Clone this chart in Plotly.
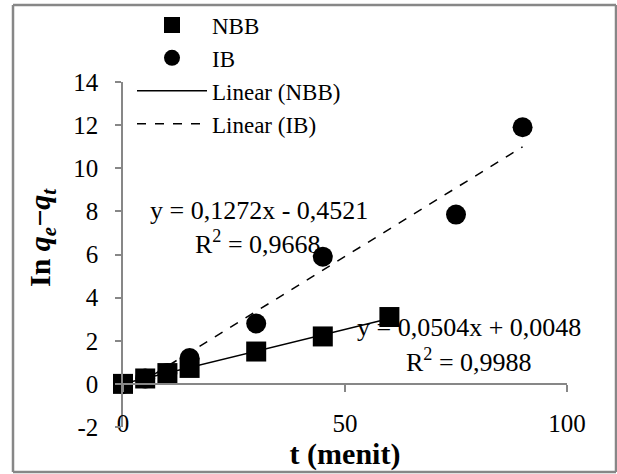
import plotly.graph_objects as go

# ---- data ----
t_nbb = [0, 5, 10, 15, 30, 45, 60]
y_nbb = [0, 0.25, 0.5, 0.74, 1.5, 2.2, 3.1]
t_ib = [0, 5, 10, 15, 30, 45, 75, 90]
y_ib = [0, 0.25, 0.5, 1.2, 2.8, 5.9, 7.85, 11.9]
fit_nbb = [0.0504, 0.0048]   # slope, intercept
fit_ib = [0.1272, -0.4521]
eq_nbb = "y = 0,0504x + 0,0048"
eq_ib = "y = 0,1272x - 0,4521"
r2_nbb = "R<sup>2</sup> = 0,9988"
r2_ib = "R<sup>2</sup> = 0,9668"
x_range = [0, 100]
y_range = [-2, 14]
x_ticks = [0, 50, 100]
y_ticks = [-2, 0, 2, 4, 6, 8, 10, 12, 14]
y_tick_text = ["-2", "0", "2", "4", "6", "8", "10", "12", "14"]
x_title = "<b>t (menit)</b>"
y_title = "<b>In <i>q</i><sub><i>e</i></sub>−<i>q</i><sub><i>t</i></sub></b>"

FONT = "Times New Roman, Liberation Serif, serif"
GRAY = "#878787"
W, H = 617, 474

# plot-area placement (pixels) -> paper fractions (margins are zero)
PL, PR, PT, PB = 123, 567, 82, 427
xdom = [PL / W, PR / W]
ydom = [1 - PB / H, 1 - PT / H]
def px(x):
    return x / W
def py(y):
    return 1 - y / H
zero_pos = ydom[0] + (0 - y_range[0]) / (y_range[1] - y_range[0]) * (ydom[1] - ydom[0])

def trend(xs, fit):
    x0, x1 = min(xs), max(xs)
    return [x0, x1], [fit[0] * x0 + fit[1], fit[0] * x1 + fit[1]]

fig = go.Figure()

tx, ty = trend(t_ib, fit_ib)
fig.add_trace(go.Scatter(x=tx, y=ty, mode="lines", name="Linear (IB)",
                         line=dict(color="black", width=1.5, dash="dash"),
                         legendrank=4, cliponaxis=False))
fig.add_trace(go.Scatter(x=t_ib, y=y_ib, mode="markers", name="IB",
                         marker=dict(symbol="circle", size=20, color="black"),
                         legendrank=2, cliponaxis=False))
tx, ty = trend(t_nbb, fit_nbb)
fig.add_trace(go.Scatter(x=tx, y=ty, mode="lines", name="Linear (NBB)",
                         line=dict(color="black", width=1.5),
                         legendrank=3, cliponaxis=False))
fig.add_trace(go.Scatter(x=t_nbb, y=y_nbb, mode="markers", name="NBB",
                         marker=dict(symbol="square", size=20, color="black"),
                         legendrank=1, cliponaxis=False))
# invisible helper trace for the axis line at y=0
fig.add_trace(go.Scatter(x=[0], y=[0], xaxis="x2", mode="markers",
                         marker=dict(opacity=0), showlegend=False, hoverinfo="skip"))

afont = dict(family=FONT, size=26, color="black")
fig.add_annotation(x=30.6, y=8.05, text=eq_ib, showarrow=False, font=afont)
fig.add_annotation(x=30.3, y=6.57, text=r2_ib, showarrow=False, font=afont)
fig.add_annotation(x=78.0, y=2.6, text=eq_nbb, showarrow=False, font=afont)
fig.add_annotation(x=77.9, y=1.07, text=r2_nbb, showarrow=False, font=afont)

# y-axis title (placed like the original, slightly above centre)
fig.add_annotation(x=px(42), y=py(237), xref="paper", yref="paper",
                   xanchor="center", yanchor="middle",
                   text=y_title, textangle=-90, showarrow=False,
                   font=dict(family=FONT, size=30, color="black"))

# chart border (4 edges)
L, R, T, B = px(13), px(616), py(5), py(472)
for x0, y0, x1, y1 in [(L, T, R, T), (L, B, R, B), (L, B, L, T), (R, B, R, T)]:
    fig.add_shape(type="line", xref="paper", yref="paper", x0=x0, y0=y0, x1=x1, y1=y1,
                  line=dict(color=GRAY, width=2.5))

fig.update_layout(
    width=W, height=H,
    margin=dict(l=0, r=0, t=0, b=0, pad=0),
    paper_bgcolor="white", plot_bgcolor="white",
    font=dict(family=FONT, size=25, color="black"),
    showlegend=True,
    legend=dict(x=px(132), y=py(3.5), xanchor="left", yanchor="top",
                bgcolor="rgba(0,0,0,0)", itemwidth=70,
                font=dict(family=FONT, size=23, color="black")),
    xaxis=dict(domain=xdom, range=x_range, tickvals=x_ticks, showline=False, showgrid=False,
               zeroline=False, ticks="", anchor="free", position=py(405.5),
               automargin=False,
               tickfont=dict(family=FONT, size=25, color="black"),
               title=dict(text=x_title, font=dict(family=FONT, size=30), standoff=2)),
    xaxis2=dict(domain=xdom, range=x_range, overlaying="x", anchor="free", position=zero_pos,
                tickvals=x_ticks, showticklabels=False, showline=True, linecolor=GRAY,
                linewidth=1.5, ticks="outside", ticklen=7, tickcolor=GRAY, tickwidth=1.5,
                showgrid=False, zeroline=False, automargin=False),
    yaxis=dict(domain=ydom, range=y_range, tickvals=y_ticks, ticktext=y_tick_text,
               showline=True, linecolor=GRAY, automargin=False,
               linewidth=1.5, ticks="outside", ticklen=6, tickcolor=GRAY, tickwidth=1.5,
               showgrid=False, zeroline=False, ticklabelstandoff=12,
               tickfont=dict(family=FONT, size=25, color="black")),
)

fig.write_html("out.html", config={"displayModeBar": False},
               post_script="document.body.style.margin='0';")
